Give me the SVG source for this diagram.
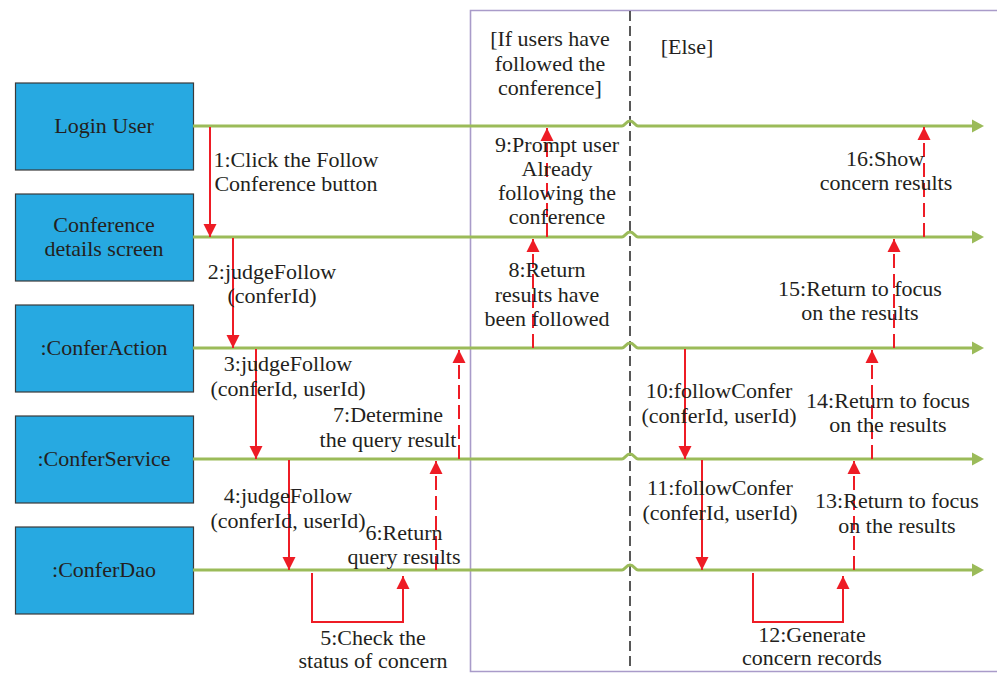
<svg xmlns="http://www.w3.org/2000/svg" width="997" height="673" viewBox="0 0 997 673">
  <style>
    .box { fill: #27a9e1; stroke: #3a3a3a; stroke-width: 1.2; }
    .t { font-family: 'Liberation Serif', 'Times New Roman', 'DejaVu Serif', serif; font-size: 22px; fill: #231f20; text-anchor: middle; }
    .life { fill: none; stroke: #9bbb59; stroke-width: 3; marker-end: url(#greenHead); }
    .call { fill: none; stroke: #ee1c25; stroke-width: 2; marker-end: url(#redHead); }
    .ret { fill: none; stroke: #ee1c25; stroke-width: 2; stroke-dasharray: 14 6; marker-end: url(#redHead); }
    .frame { fill: none; stroke: #a99bc9; stroke-width: 1.6; }
    .divider { fill: none; stroke: #222; stroke-width: 1.5; stroke-dasharray: 10 5; }
  </style>
  <defs>
    <marker id="greenHead" markerUnits="userSpaceOnUse" markerWidth="13" markerHeight="14" refX="0" refY="7" orient="auto">
      <path d="M0,0.5 L12,7 L0,13.5 z" fill="#9bbb59"/>
    </marker>
    <marker id="redHead" markerUnits="userSpaceOnUse" markerWidth="14" markerHeight="14" refX="13" refY="7" orient="auto">
      <path d="M0,0.5 L13,7 L0,13.5 z" fill="#ee1c25"/>
    </marker>
  </defs>

  <rect width="997" height="673" fill="#ffffff"/>

  <!-- combined fragment: alt frame with guard divider -->
  <g id="alt-frame">
    <path class="frame" d="M998,10.5 H470.5 V671.5 H998"/>
    <line class="divider" x1="630" y1="11" x2="630" y2="666"/>
    <text class="t" x="550" y="46">[If users have</text>
    <text class="t" x="550" y="71">followed the</text>
    <text class="t" x="550" y="95">conference]</text>
    <text class="t" x="687" y="54">[Else]</text>
  </g>

  <!-- object nodes -->
  <g id="login-user">
    <rect class="box" x="15.5" y="83" width="178" height="87"/>
    <text class="t" x="104" y="133">Login User</text>
  </g>
  <g id="conference-details-screen">
    <rect class="box" x="15.5" y="194" width="178" height="87"/>
    <text class="t" x="104" y="232">Conference</text>
    <text class="t" x="104" y="256">details screen</text>
  </g>
  <g id="confer-action">
    <rect class="box" x="15.5" y="305" width="178" height="87"/>
    <text class="t" x="104" y="355">:ConferAction</text>
  </g>
  <g id="confer-service">
    <rect class="box" x="15.5" y="416" width="178" height="87"/>
    <text class="t" x="104" y="466">:ConferService</text>
  </g>
  <g id="confer-dao">
    <rect class="box" x="15.5" y="527" width="178" height="87"/>
    <text class="t" x="104" y="577">:ConferDao</text>
  </g>

  <!-- connectors: lifelines (with hop over the divider) and messages -->
  <g id="connectors">
    <g id="lifelines">
      <path class="life" d="M193,126 H622 C625,126 626,121 630,121 C634,121 635,126 638,126 H972"/>
      <path class="life" d="M193,237 H622 C625,237 626,232 630,232 C634,232 635,237 638,237 H972"/>
      <path class="life" d="M193,348 H622 C625,348 626,343 630,343 C634,343 635,348 638,348 H972"/>
      <path class="life" d="M193,459 H622 C625,459 626,454 630,454 C634,454 635,459 638,459 H972"/>
      <path class="life" d="M193,570 H622 C625,570 626,565 630,565 C634,565 635,570 638,570 H972"/>
    </g>

    <g id="msg1">
      <line class="call" x1="210" y1="127" x2="210" y2="237"/>
      <text class="t" x="296" y="167">1:Click the Follow</text>
      <text class="t" x="296" y="191">Conference button</text>
    </g>
    <g id="msg2">
      <line class="call" x1="233" y1="238" x2="233" y2="348"/>
      <text class="t" x="272" y="279">2:judgeFollow</text>
      <text class="t" x="272" y="303">(conferId)</text>
    </g>
    <g id="msg3">
      <line class="call" x1="256" y1="349" x2="256" y2="459"/>
      <text class="t" x="288" y="371">3:judgeFollow</text>
      <text class="t" x="288" y="396">(conferId, userId)</text>
    </g>
    <g id="msg4">
      <line class="call" x1="289" y1="460" x2="289" y2="570"/>
      <text class="t" x="288" y="503">4:judgeFollow</text>
      <text class="t" x="288" y="528">(conferId, userId)</text>
    </g>
    <g id="msg5">
      <polyline class="call" points="312,573 312,622 403,622 403,576"/>
      <text class="t" x="373" y="645">5:Check the</text>
      <text class="t" x="373" y="668">status of concern</text>
    </g>
    <g id="msg6">
      <line class="ret" x1="436" y1="570" x2="436" y2="461"/>
      <text class="t" x="404" y="540">6:Return</text>
      <text class="t" x="404" y="564">query results</text>
    </g>
    <g id="msg7">
      <line class="ret" x1="459" y1="459" x2="459" y2="350"/>
      <text class="t" x="388" y="422">7:Determine</text>
      <text class="t" x="388" y="447">the query result</text>
    </g>
    <g id="msg8">
      <line class="ret" x1="533" y1="348" x2="533" y2="239"/>
      <text class="t" x="547" y="277">8:Return</text>
      <text class="t" x="547" y="302">results have</text>
      <text class="t" x="547" y="326">been followed</text>
    </g>
    <g id="msg9">
      <line class="ret" x1="547" y1="237" x2="547" y2="128"/>
      <text class="t" x="557" y="152">9:Prompt user</text>
      <text class="t" x="557" y="176">Already</text>
      <text class="t" x="557" y="200">following the</text>
      <text class="t" x="557" y="224">conference</text>
    </g>
    <g id="msg10">
      <line class="call" x1="685" y1="349" x2="685" y2="459"/>
      <text class="t" x="719" y="398">10:followConfer</text>
      <text class="t" x="719" y="423">(conferId, userId)</text>
    </g>
    <g id="msg11">
      <line class="call" x1="702" y1="460" x2="702" y2="570"/>
      <text class="t" x="720" y="495">11:followConfer</text>
      <text class="t" x="720" y="520">(conferId, userId)</text>
    </g>
    <g id="msg12">
      <polyline class="call" points="753,573 753,622 843,622 843,576"/>
      <text class="t" x="812" y="642">12:Generate</text>
      <text class="t" x="812" y="665">concern records</text>
    </g>
    <g id="msg13">
      <line class="ret" x1="854" y1="570" x2="854" y2="461"/>
      <text class="t" x="897" y="508">13:Return to focus</text>
      <text class="t" x="897" y="533">on the results</text>
    </g>
    <g id="msg14">
      <line class="ret" x1="872" y1="459" x2="872" y2="350"/>
      <text class="t" x="888" y="408">14:Return to focus</text>
      <text class="t" x="888" y="432">on the results</text>
    </g>
    <g id="msg15">
      <line class="ret" x1="894" y1="348" x2="894" y2="239"/>
      <text class="t" x="860" y="296">15:Return to focus</text>
      <text class="t" x="860" y="320">on the results</text>
    </g>
    <g id="msg16">
      <line class="ret" x1="924" y1="237" x2="924" y2="127"/>
      <text class="t" x="885" y="166">16:Show</text>
      <text class="t" x="886" y="190">concern results</text>
    </g>
  </g>
</svg>
